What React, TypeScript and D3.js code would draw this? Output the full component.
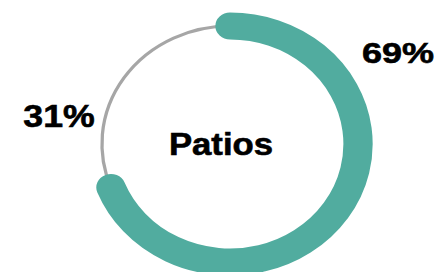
import * as d3 from 'd3';

// slice values (percent)
const categories = ['Patios', 'Other'];
const values = [69, 31];
const labels = ['69%', '31%'];
const title = 'Patios';

const width = 438;
const height = 272;

export default function App() {
  const cx = 230;
  const cy = 144;
  const r = 118; // vertical radius, x gets stretched
  const stretchX = 1.085;

  const pie = d3.pie<number>().sort(null).value((d) => d);
  const slices = pie(values);

  const arcPath = (a0: number, a1: number) => {
    const p = d3.path();
    p.arc(0, 0, r, a0 - Math.PI / 2, a1 - Math.PI / 2, false);
    return p.toString();
  };

  // label placement (layout only)
  const labelPos = [
    { x: 398, y: 63, k: 1.2, size: 30 },
    { x: 59, y: 127, k: 1.15, size: 31 },
  ];

  const font = {
    fontFamily: "'Liberation Sans', Arial, sans-serif",
    fontWeight: 'bold' as const,
    fill: '#000',
    stroke: '#000',
    strokeWidth: 0.6,
  };

  return (
    <svg width={width} height={height} style={{ position: 'absolute', top: 0, left: 0 }}>
      <g transform={`translate(${cx},${cy}) scale(${stretchX},1)`}>
        <path d={arcPath(slices[1].startAngle, slices[1].endAngle)} fill="none" stroke="#a6a6a6" strokeWidth={3} />
        <path
          d={arcPath(slices[0].startAngle, slices[0].endAngle)}
          fill="none"
          stroke="#51ac9f"
          strokeWidth={27}
          strokeLinecap="round"
        />
      </g>
      {labels.map((t, i) => (
        <text
          key={categories[i]}
          transform={`translate(${labelPos[i].x},${labelPos[i].y}) scale(${labelPos[i].k},1)`}
          textAnchor="middle"
          fontSize={labelPos[i].size}
          {...font}
        >
          {t}
        </text>
      ))}
      <text transform={`translate(221,155) scale(1.12,1)`} textAnchor="middle" fontSize={31} {...font}>
        {title}
      </text>
    </svg>
  );
}
